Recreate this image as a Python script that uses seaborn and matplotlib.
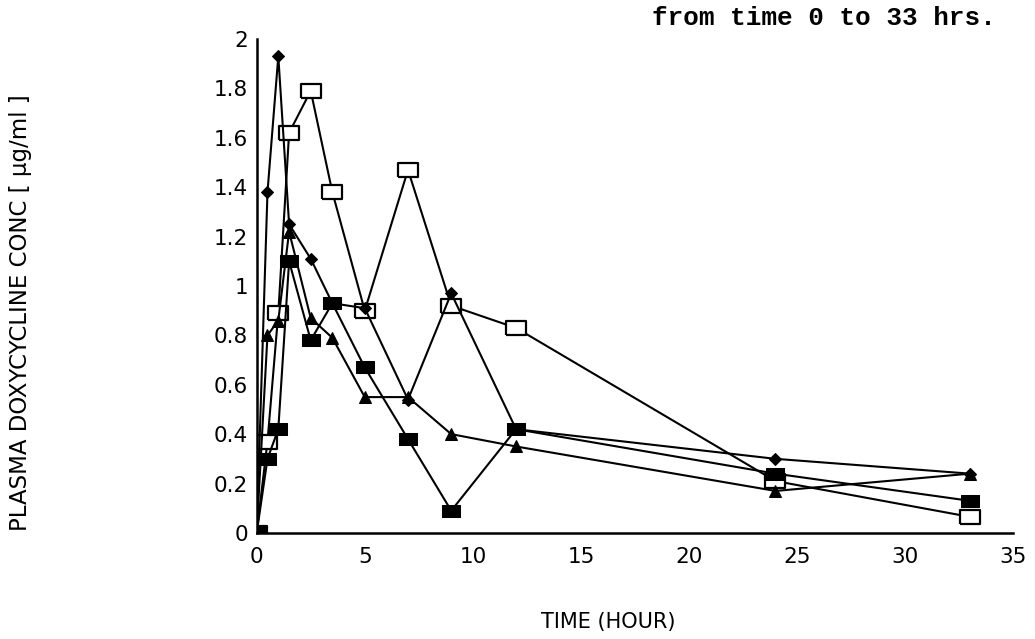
import matplotlib
matplotlib.use("Agg")
import matplotlib.pyplot as plt
import seaborn as sns
import pandas as pd

# ---- data ----
time_h = [0, 0.5, 1, 1.5, 2.5, 3.5, 5, 7, 9, 12, 24, 33]
diamond_vals = [0.0, 1.38, 1.93, 1.25, 1.11, 0.93, 0.91, 0.54, 0.97, 0.42, 0.30, 0.24]
open_sq_vals = [0.0, 0.37, 0.89, 1.62, 1.79, 1.38, 0.90, 1.47, 0.92, 0.83, 0.21, 0.065]
filled_sq_vals = [0.0, 0.30, 0.42, 1.10, 0.78, 0.93, 0.67, 0.38, 0.09, 0.42, 0.24, 0.13]
triangle_vals = [0.0, 0.80, 0.86, 1.22, 0.87, 0.79, 0.55, 0.55, 0.40, 0.35, 0.17, 0.24]

x_ticks = [0, 5, 10, 15, 20, 25, 30, 35]
y_ticks = [0, 0.2, 0.4, 0.6, 0.8, 1, 1.2, 1.4, 1.6, 1.8, 2]
y_tick_labels = ["0", "0.2", "0.4", "0.6", "0.8", "1", "1.2", "1.4", "1.6", "1.8", "2"]

title_text = "from time 0 to 33 hrs."
x_label = "TIME (HOUR)"
y_label = "PLASMA DOXYCYCLINE CONC [ \u00b5g/ml ]"

sns.set_style("white")
plt.rcParams["font.family"] = ["DejaVu Sans"]
plt.rcParams["text.color"] = "black"
plt.rcParams["axes.labelcolor"] = "black"

fig = plt.figure(figsize=(10.35, 6.39), dpi=100)
ax = fig.add_axes([0.248, 0.166, 0.731, 0.773])

rect = [(-1.55, -1), (1.55, -1), (1.55, 1), (-1.55, 1), (-1.55, -1)]

series = [
    (open_sq_vals, dict(marker=rect, markersize=15, markerfacecolor="white", markeredgecolor="black", markeredgewidth=1.6)),
    (triangle_vals, dict(marker="^", markersize=9, markerfacecolor="black", markeredgecolor="black")),
    (filled_sq_vals, dict(marker=rect, markersize=13, markerfacecolor="black", markeredgecolor="black")),
    (diamond_vals, dict(marker="D", markersize=6, markerfacecolor="black", markeredgecolor="black")),
]

for vals, style in series:
    df = pd.DataFrame({"t": time_h, "c": vals})
    sns.lineplot(data=df, x="t", y="c", ax=ax, color="black", linewidth=1.5,
                 estimator=None, sort=False, **style)

ax.set_xlim(0, 35)
ax.set_ylim(0, 2)
ax.set_xticks(x_ticks)
ax.set_xticklabels([str(v) for v in x_ticks])
ax.set_yticks(y_ticks)
ax.set_yticklabels(y_tick_labels)
ax.tick_params(axis="y", direction="in", length=9, width=1.5, labelsize=15.5, pad=6, colors="black")
ax.tick_params(axis="x", length=0, labelsize=15.5, pad=10, colors="black")
for s in ["top", "right"]:
    ax.spines[s].set_visible(False)
for s in ["left", "bottom"]:
    ax.spines[s].set_color("black")
    ax.spines[s].set_linewidth(1.8)

ax.set_xlabel(x_label, fontsize=15, color="black")
ax.xaxis.set_label_coords(0.465, -0.16)
ax.set_ylabel(y_label, fontsize=16.5, color="black")
ax.yaxis.set_label_coords(-0.297, 0.445)

fig.text(0.63, 0.99, title_text, fontsize=18.7, family=["Liberation Mono", "DejaVu Sans Mono"],
         fontweight="bold", va="top", ha="left", color="black")

fig.savefig("out.png", dpi=100, facecolor="white")
